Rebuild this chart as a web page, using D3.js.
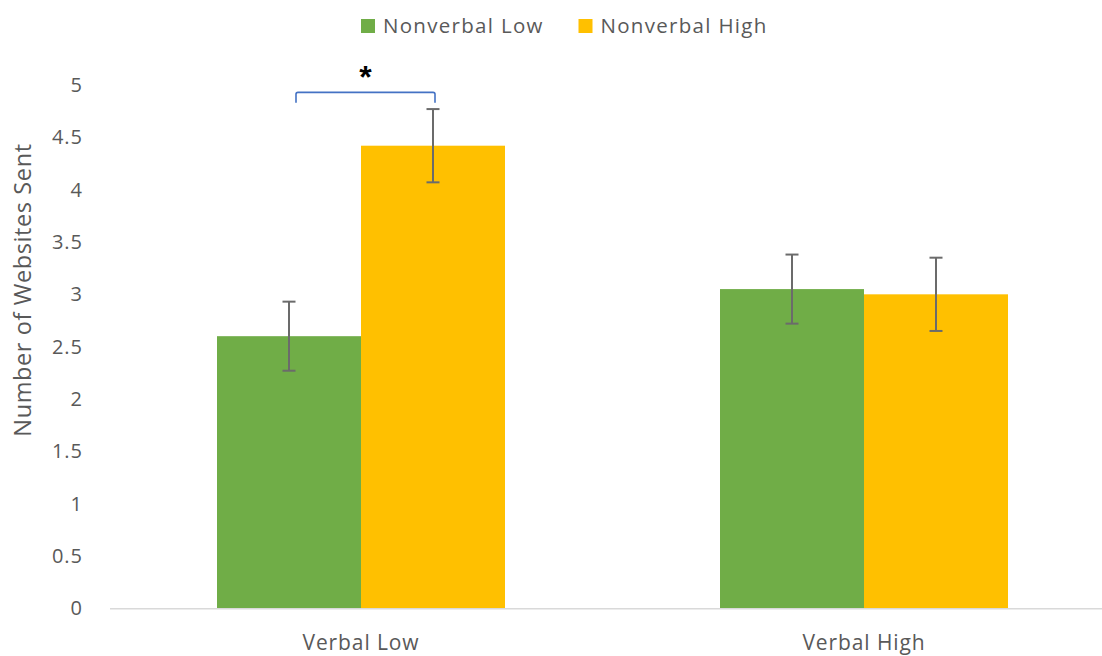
<!DOCTYPE html>
<html>
<head>
<meta charset="utf-8">
<script src="https://cdn.jsdelivr.net/npm/d3@7"></script>
<style>
  html, body { margin: 0; padding: 0; background: #fff; }
  svg { display: block; font-family: "Open Sans", "Noto Sans", sans-serif; }
</style>
</head>
<body>
<svg id="chart" width="1102" height="656"></svg>
<script>
// Number of websites sent, by verbal and nonverbal condition
const categories = ["Verbal Low", "Verbal High"];
const seriesNames = ["Nonverbal Low", "Nonverbal High"];
const nonverbalLow = [2.60, 3.05];
const nonverbalHigh = [4.42, 3.00];
const nonverbalLowErr = [0.33, 0.33];
const nonverbalHighErr = [0.35, 0.35];
const yTicks = [0, 0.5, 1, 1.5, 2, 2.5, 3, 3.5, 4, 4.5, 5];
const yTitle = "Number of Websites Sent";
const significance = "*";

const colors = ["#70ad47", "#ffc000"];
const values = [nonverbalLow, nonverbalHigh];
const errors = [nonverbalLowErr, nonverbalHighErr];

const svg = d3.select("#chart");
const plot = { left: 109.5, right: 1115.5, top: 85, bottom: 608.3 };

const y = d3.scaleLinear().domain([0, 5]).range([plot.bottom, plot.top]);
const x0 = d3.scaleBand().domain(categories).range([plot.left, plot.right]).padding(0);
const barW = 144;
const x1 = d3.scaleBand().domain(seriesNames)
  .range([x0.bandwidth() / 2 - barW, x0.bandwidth() / 2 + barW]).padding(0);

// y axis labels (no axis line, no gridlines)
const yAxis = d3.axisLeft(y).tickValues(yTicks).tickSize(0).tickPadding(0)
  .tickFormat(d3.format("~g"));
const gy = svg.append("g").attr("transform", `translate(83,0)`).call(yAxis);
gy.select(".domain").remove();
gy.selectAll("text")
  .attr("fill", "#595959")
  .style("font-size", "20px")
  .style("letter-spacing", "1px")
  .style("font-family", "'Open Sans', sans-serif");

// y axis title
svg.append("text")
  .attr("transform", `translate(31,290) rotate(-90)`)
  .attr("text-anchor", "middle")
  .attr("fill", "#595959")
  .style("font-size", "23.5px")
  .style("letter-spacing", "0.6px")
  .text(yTitle);

// bars
const groups = svg.append("g").selectAll("g")
  .data(categories)
  .join("g")
  .attr("transform", d => `translate(${x0(d)},0)`);

groups.selectAll("rect")
  .data((d, i) => seriesNames.map((s, k) => ({ s, v: values[k][i], e: errors[k][i], c: colors[k] })))
  .join("rect")
  .attr("x", d => x1(d.s))
  .attr("width", x1.bandwidth())
  .attr("y", d => y(d.v))
  .attr("height", d => y(0) - y(d.v))
  .attr("fill", d => d.c);

// baseline axis
const gx = svg.append("g").attr("transform", `translate(0,${plot.bottom})`)
  .call(d3.axisBottom(x0).tickSize(0).tickPadding(0));
gx.select(".domain").attr("stroke", "#d9d9d9").attr("stroke-width", 1.5);
gx.selectAll("text")
  .attr("y", 42)
  .attr("dy", 0)
  .attr("fill", "#595959")
  .style("font-size", "21px")
  .style("letter-spacing", "0.9px")
  .style("font-family", "'Open Sans', sans-serif");

// error bars
const errG = groups.selectAll("g.err")
  .data((d, i) => seriesNames.map((s, k) => ({ s, v: values[k][i], e: errors[k][i] })))
  .join("g").attr("class", "err")
  .attr("stroke", "#6b6b6b").attr("stroke-width", 2);
const cx = d => x1(d.s) + x1.bandwidth() / 2;
errG.append("line")
  .attr("x1", cx).attr("x2", cx)
  .attr("y1", d => y(d.v + d.e)).attr("y2", d => y(d.v - d.e));
errG.append("line")
  .attr("x1", d => cx(d) - 6.5).attr("x2", d => cx(d) + 6.5)
  .attr("y1", d => y(d.v + d.e)).attr("y2", d => y(d.v + d.e));
errG.append("line")
  .attr("x1", d => cx(d) - 6.5).attr("x2", d => cx(d) + 6.5)
  .attr("y1", d => y(d.v - d.e)).attr("y2", d => y(d.v - d.e));

// significance bracket over the Verbal Low pair
const bx0 = x0(categories[0]) + x1(seriesNames[0]) + x1.bandwidth() / 2 + 7;
const bx1 = x0(categories[0]) + x1(seriesNames[1]) + x1.bandwidth() / 2 + 2;
const byTop = y(4.93), byEnd = y(4.83), r = 2;
svg.append("path")
  .attr("d", `M${bx0},${byEnd} V${byTop + r} Q${bx0},${byTop} ${bx0 + r},${byTop} H${bx1 - r} Q${bx1},${byTop} ${bx1},${byTop + r} V${byEnd}`)
  .attr("fill", "none")
  .attr("stroke", "#4472c4")
  .attr("stroke-width", 1.6);
svg.append("text")
  .attr("x", (bx0 + bx1) / 2)
  .attr("y", 88)
  .attr("text-anchor", "middle")
  .attr("fill", "#000")
  .style("font-size", "32px")
  .style("font-weight", "bold")
  .style("font-family", "'Liberation Sans', sans-serif")
  .text(significance);

// legend
const legendX = [361, 578.5];
const legend = svg.append("g").selectAll("g")
  .data(seriesNames)
  .join("g")
  .attr("transform", (d, i) => `translate(${legendX[i]},19)`);
legend.append("rect").attr("width", 14).attr("height", 14).attr("fill", (d, i) => colors[i]);
legend.append("text")
  .attr("x", 22).attr("y", 14)
  .attr("fill", "#595959")
  .style("font-size", "20.5px")
  .style("letter-spacing", "1.3px")
  .text(d => d);
</script>
</body>
</html>
